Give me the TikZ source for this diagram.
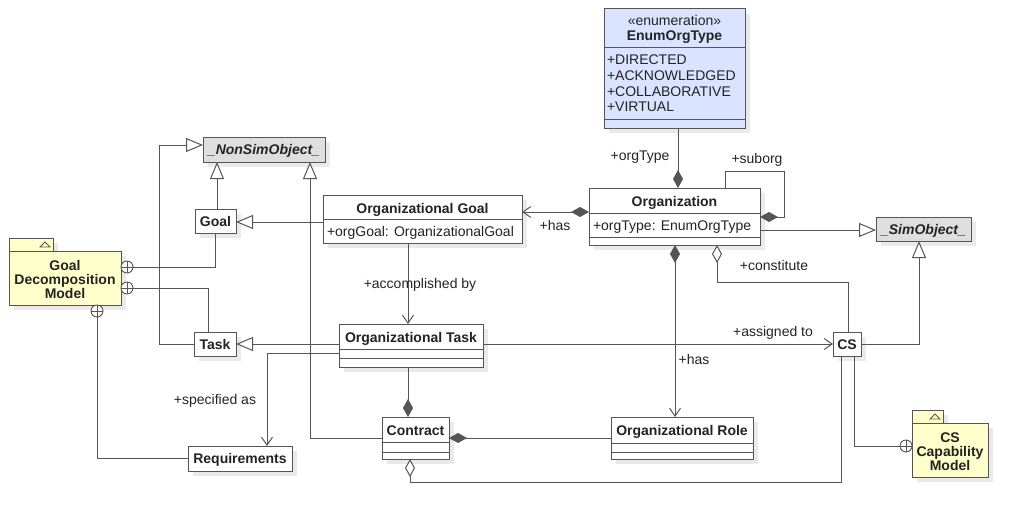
\documentclass[tikz,border=0pt]{standalone}
\usepackage{fontspec}
\setmainfont{Liberation Sans}
\usetikzlibrary{arrows.meta,shadows}
\definecolor{lc}{RGB}{85,85,85}
\definecolor{tc}{RGB}{35,35,35}
\definecolor{enumfill}{RGB}{218,227,255}
\definecolor{absfill}{RGB}{222,222,222}
\definecolor{pkgfill}{RGB}{255,255,204}
\definecolor{shd}{RGB}{234,234,234}
\tikzset{
  nest/.pic={\draw[lc,line width=0.9pt,fill=white] (0,0) circle (6pt); \draw[lc,line width=0.9pt] (-6,0) -- (6,0) (0,-6) -- (0,6);},
}
\begin{document}
\begin{tikzpicture}[x=1pt,y=-1pt,line width=1pt,
  box/.style={draw=lc,fill=white,inner sep=0pt,outer sep=0pt,anchor=north west,line width=1pt,
    text=tc,font=\fontsize{14}{16}\selectfont\bfseries,text height=10pt,text depth=0pt,
    general shadow={fill=shd,shadow xshift=5pt,shadow yshift=-5pt}},
  txt/.style={inner sep=0pt,outer sep=0pt,text=tc,font=\fontsize{14}{16}\selectfont,text height=10pt,text depth=0pt},
  btxt/.style={txt,font=\fontsize{14}{16}\selectfont\bfseries},
  sep/.style={draw=lc,line width=1pt},
  conn/.style={draw=lc,line width=1pt},
  gen/.style={conn,-{Triangle[open,length=17pt,width=14pt,fill=white]}},
  nav/.style={conn,-{Straight Barb[length=8pt,width=11pt]}},
  comp/.style={conn,{Diamond[length=18pt,width=10pt]}-},
  compnav/.style={conn,{Diamond[length=18pt,width=10pt]}-{Straight Barb[length=8pt,width=11pt]}},
  agg/.style={conn,{Diamond[open,length=18pt,width=10pt,fill=white]}-},
]
\useasboundingbox (0,0) rectangle (1024,519);

% ---------- classes ----------
\node[box,fill=enumfill,minimum width=141pt,minimum height=119pt] (enum) at (604,9) {};
\draw[sep] (enum.west |- 0,48) -- (enum.east |- 0,48);
\draw[sep] (enum.west |- 0,119) -- (enum.east |- 0,119);
\node[txt] (enumst) at (674.5,21) {«enumeration»};
\node[btxt] (enumnm) at (674.5,36) {EnumOrgType};
\node[txt,anchor=west] (e1) at (607,59) {+DIRECTED};
\node[txt,anchor=west] (e2) at (607,75) {+ACKNOWLEDGED};
\node[txt,anchor=west] (e3) at (607,91) {+COLLABORATIVE};
\node[txt,anchor=west] (e4) at (607,106.5) {+VIRTUAL};

\node[box,fill=absfill,minimum width=122pt,minimum height=25pt] (nonsim) at (203,137) {\textit{\_NonSimObject\_}};
\node[box,fill=absfill,minimum width=95pt,minimum height=24pt] (simobj) at (876,217) {\textit{\_SimObject\_}};

\node[box,minimum width=41pt,minimum height=24pt] (goal) at (195,209) {Goal};
\node[box,minimum width=42pt,minimum height=24pt] (task) at (194,332) {Task};
\node[box,minimum width=104pt,minimum height=25pt] (req) at (188,446) {Requirements};
\node[box,minimum width=28pt,minimum height=24pt] (cs) at (833,332) {CS};

\node[box,minimum width=199pt,minimum height=48pt] (og) at (323,195) {};
\draw[sep] (og.west |- 0,219) -- (og.east |- 0,219);
\node[btxt] (ogname) at (422.5,208) {Organizational Goal};
\node[txt,anchor=west] (ogattr) at (327,231.5) {+orgGoal: OrganizationalGoal};

\node[box,minimum width=171pt,minimum height=57pt] (org) at (589,188) {};
\draw[sep] (org.west |- 0,213) -- (org.east |- 0,213);
\draw[sep] (org.west |- 0,237) -- (org.east |- 0,237);
\node[btxt] (orgname) at (674.5,201) {Organization};
\node[txt,anchor=west] (orgattr) at (593,225) {+orgType: EnumOrgType};

\node[box,minimum width=144pt,minimum height=43pt] (ot) at (339,324) {};
\draw[sep] (ot.west |- 0,349) -- (ot.east |- 0,349);
\draw[sep] (ot.west |- 0,358) -- (ot.east |- 0,358);
\node[btxt] (otname) at (411,337) {Organizational Task};

\node[box,minimum width=67pt,minimum height=42pt] (contract) at (382,417) {};
\draw[sep] (contract.west |- 0,442) -- (contract.east |- 0,442);
\draw[sep] (contract.west |- 0,452) -- (contract.east |- 0,452);
\node[btxt] (contractname) at (415.5,430) {Contract};

\node[box,minimum width=142pt,minimum height=42pt] (role) at (611,417) {};
\draw[sep] (role.west |- 0,443) -- (role.east |- 0,443);
\draw[sep] (role.west |- 0,452) -- (role.east |- 0,452);
\node[btxt] (rolename) at (682,430) {Organizational Role};

% ---------- packages ----------
\node[box,fill=pkgfill,minimum width=44pt,minimum height=13pt] (gdmtab) at (9,238) {};
\draw[lc,line width=0.8pt] (40,247) -- (50,247) -- (45,242) -- cycle;
\node[box,fill=pkgfill,minimum width=112pt,minimum height=54pt] (gdm) at (9,251) {};
\node[btxt,align=center,text height=,text depth=,font=\fontsize{14}{14}\selectfont\bfseries] (gdmtext) at (65,279.5) {Goal\\Decomposition\\Model};

\node[box,fill=pkgfill,minimum width=31pt,minimum height=13pt] (cscmtab) at (912,410) {};
\draw[lc,line width=0.8pt] (930,419) -- (940,419) -- (935,414) -- cycle;
\node[box,fill=pkgfill,minimum width=76pt,minimum height=54pt] (cscm) at (912,423) {};
\node[btxt,align=center,text height=,text depth=,font=\fontsize{14}{14}\selectfont\bfseries] (cscmtext) at (950,451.5) {CS\\Capability\\Model};

% ---------- connectors ----------
\draw[comp] (org.north -| 678,0) -- (enum.south -| 678,0);
\draw[comp] (org.east |- 0,217) -- (784,217) -- (784,171) -- (725,171) -- (org.north -| 725,0);
\draw[compnav] (org.west |- 0,212) -- (og.east |- 0,212);
\draw[gen] (org.east |- 0,230) -- (simobj.west |- 0,230);
\draw[agg] (org.south -| 717,0) -- (717,282) -- (848,282) -- (cs.north -| 848,0);
\draw[compnav] (org.south -| 675,0) -- (role.north -| 675,0);
\draw[nav] (og.south -| 408,0) -- (ot.north -| 408,0);
\draw[gen] (og.west |- 0,222) -- (goal.east |- 0,222);
\draw[gen] (goal.north -| 217,0) -- (nonsim.south -| 217,0);
\draw[gen] (task.west) -- (159,344) -- (159,145) -- (nonsim.west |- 0,145);
\draw[gen] (ot.west |- 0,344) -- (task.east |- 0,344);
\draw[nav] (ot.west |- 0,353) -- (267,353) -- (req.north -| 267,0);
\draw[nav] (ot.east |- 0,344) -- (cs.west);
\draw[comp] (contract.north -| 408,0) -- (ot.south -| 408,0);
\draw[gen] (contract.west |- 0,438) -- (310,438) -- (nonsim.south -| 310,0);
\draw[comp] (contract.east |- 0,438) -- (role.west |- 0,438);
\draw[agg] (contract.south -| 410,0) -- (410,482) -- (841,482) -- (cs.south -| 841,0);
\draw[gen] (cs.east) -- (919,344) -- (simobj.south -| 919,0);
\draw[conn] (cs.south -| 854,0) -- (854,446) -- (cscm.west |- 0,446);
\draw[conn] (goal.south -| 215,0) -- (215,267) -- (gdm.east |- 0,267);
\draw[conn] (task.north -| 208,0) -- (208,288) -- (gdm.east |- 0,288);
\draw[conn] (req.west) -- (97,458.5) -- (gdm.south -| 97,0);
\pic at (906,446) {nest};
\pic at (127,267) {nest};
\pic at (127,288) {nest};
\pic at (97,311) {nest};

% ---------- labels ----------
\node[txt] (l1) at (640,155.5) {+orgType};
\node[txt] (l2) at (757,158) {+suborg};
\node[txt] (l3) at (555,225) {+has};
\node[txt] (l4) at (774,265) {+constitute};
\node[txt] (l5) at (694,359) {+has};
\node[txt] (l6) at (773,331) {+assigned to};
\node[txt] (l7) at (420,283) {+accomplished by};
\node[txt] (l8) at (215,399) {+specified as};
\end{tikzpicture}
\end{document}
